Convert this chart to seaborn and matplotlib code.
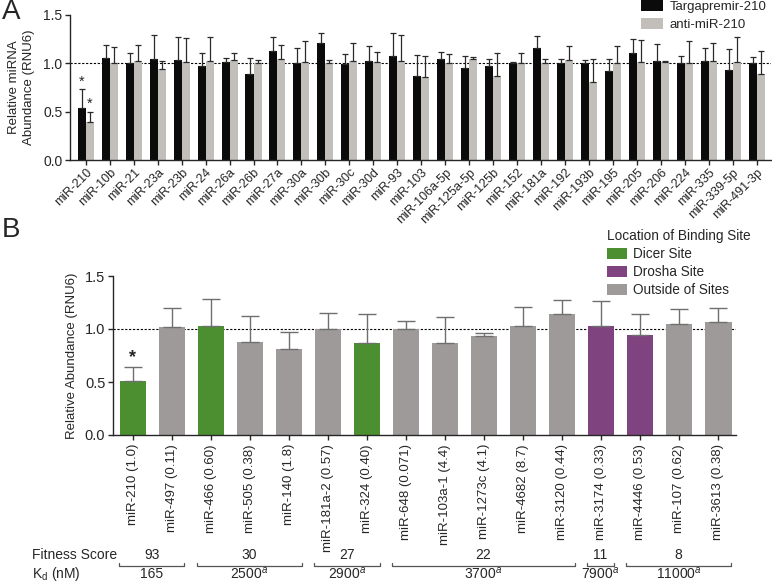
import numpy as np
import pandas as pd
import matplotlib
matplotlib.use("Agg")
import matplotlib.pyplot as plt
import seaborn as sns
from matplotlib.container import BarContainer
from matplotlib.transforms import blended_transform_factory

# ---------------- Panel A data ----------------
a_mirnas = ["miR-210", "miR-10b", "miR-21", "miR-23a", "miR-23b", "miR-24", "miR-26a",
            "miR-26b", "miR-27a", "miR-30a", "miR-30b", "miR-30c", "miR-30d", "miR-93",
            "miR-103", "miR-106a-5p", "miR-125a-5p", "miR-125b", "miR-152", "miR-181a",
            "miR-192", "miR-193b", "miR-195", "miR-205", "miR-206", "miR-224", "miR-335",
            "miR-339-5p", "miR-491-3p"]
a_targa = [0.54, 1.06, 1.00, 1.05, 1.03, 0.97, 1.01, 0.89, 1.13, 1.00, 1.21, 0.99, 1.02, 1.08,
           0.87, 1.04, 0.95, 0.97, 1.00, 1.16, 1.00, 1.00, 0.92, 1.11, 1.02, 1.00, 1.02, 0.93, 1.00]
a_targa_err = [0.19, 0.13, 0.11, 0.24, 0.24, 0.14, 0.05, 0.17, 0.14, 0.16, 0.10, 0.11, 0.16, 0.23,
               0.22, 0.08, 0.13, 0.07, 0.01, 0.12, 0.04, 0.03, 0.12, 0.14, 0.18, 0.08, 0.14, 0.22, 0.07]
a_anti = [0.39, 1.00, 1.02, 0.94, 1.01, 1.02, 1.03, 1.00, 1.04, 1.01, 1.00, 1.02, 1.01, 1.02,
          0.86, 1.00, 1.04, 0.87, 1.00, 1.00, 1.03, 0.81, 1.00, 1.01, 1.01, 1.00, 1.02, 1.01, 0.89]
a_anti_err = [0.11, 0.17, 0.17, 0.08, 0.25, 0.25, 0.08, 0.03, 0.15, 0.22, 0.03, 0.19, 0.11, 0.27,
              0.22, 0.10, 0.03, 0.24, 0.11, 0.05, 0.15, 0.23, 0.18, 0.23, 0.01, 0.23, 0.19, 0.26, 0.24]
a_series = ["Targapremir-210", "anti-miR-210"]
a_signif = ["miR-210"]

# ---------------- Panel B data ----------------
b_labels = ["miR-210 (1.0)", "miR-497 (0.11)", "miR-466 (0.60)", "miR-505 (0.38)",
            "miR-140 (1.8)", "miR-181a-2 (0.57)", "miR-324 (0.40)", "miR-648 (0.071)",
            "miR-103a-1 (4.4)", "miR-1273c (4.1)", "miR-4682 (8.7)", "miR-3120 (0.44)",
            "miR-3174 (0.33)", "miR-4446 (0.53)", "miR-107 (0.62)", "miR-3613 (0.38)"]
b_location = ["Dicer Site", "Outside of Sites", "Dicer Site", "Outside of Sites",
              "Outside of Sites", "Outside of Sites", "Dicer Site", "Outside of Sites",
              "Outside of Sites", "Outside of Sites", "Outside of Sites", "Outside of Sites",
              "Drosha Site", "Drosha Site", "Outside of Sites", "Outside of Sites"]
b_values = [0.505, 1.015, 1.03, 0.88, 0.815, 1.00, 0.865, 1.00, 0.87, 0.93, 1.03, 1.14,
            1.025, 0.94, 1.045, 1.07]
b_err = [0.135, 0.185, 0.25, 0.24, 0.155, 0.15, 0.275, 0.08, 0.24, 0.035, 0.18, 0.13,
         0.235, 0.20, 0.145, 0.13]
b_loc_order = ["Dicer Site", "Drosha Site", "Outside of Sites"]
b_signif = ["miR-210 (1.0)"]

fitness_scores = ["93", "30", "27", "22", "11", "8"]
kd_values = ["165", "2500$^{a}$", "2900$^{a}$", "3700$^{a}$", "7900$^{a}$", "11000$^{a}$"]
group_sizes = [2, 3, 2, 5, 1, 3]

# ---------------- style ----------------
sns.set_style("ticks")
plt.rcParams["font.family"] = ["Liberation Sans", "DejaVu Sans"]
plt.rcParams["mathtext.fontset"] = "custom"
plt.rcParams["mathtext.rm"] = "Liberation Sans"
plt.rcParams["mathtext.it"] = "Liberation Sans:italic"
plt.rcParams["axes.linewidth"] = 1.0
plt.rcParams["xtick.major.width"] = 1.0
plt.rcParams["ytick.major.width"] = 1.0

W, H = 772, 584
fig = plt.figure(figsize=(W / 100, H / 100), dpi=100)

def fx(px):
    return px / W

def fy(py):
    return 1 - py / H

# ---------------- Panel A ----------------
axA = fig.add_axes([fx(70), fy(160), fx(771) - fx(70), fy(15) - fy(160)])
dfA = pd.DataFrame({
    "miRNA": a_mirnas * 2,
    "series": [a_series[0]] * len(a_mirnas) + [a_series[1]] * len(a_mirnas),
    "value": a_targa + a_anti,
})
sns.barplot(data=dfA, x="miRNA", y="value", hue="series", hue_order=a_series,
            palette=["#0b0b0b", "#c2bfba"], width=0.67, saturation=1, linewidth=0,
            errorbar=None, ax=axA, legend=True)
errs_A = [a_targa_err, a_anti_err]
bar_conts_A = [c for c in axA.containers if isinstance(c, BarContainer)]
for ci, cont in enumerate(bar_conts_A):
    for bar in list(cont):
        xc = bar.get_x() + bar.get_width() / 2
        idx = int(round(xc))
        h = bar.get_height()
        e = errs_A[ci][idx]
        axA.errorbar(xc, h, yerr=[[0], [e]], fmt="none", ecolor="#2a2a2a",
                     elinewidth=0.9, capsize=2.2, capthick=0.9, zorder=1)
        if a_mirnas[idx] in a_signif:
            axA.text(xc, h + e + 0.005, "*", ha="center", va="bottom", fontsize=10.5)
axA.axhline(1.0, ls=(0, (2, 1.5)), color="black", lw=0.8, zorder=0)
axA.set_ylim(0, 1.5)
axA.set_xlim(-0.66, 28.6)
axA.set_yticks([0, 0.5, 1.0, 1.5])
axA.set_yticklabels(["0.0", "0.5", "1.0", "1.5"], fontsize=10)
axA.set_xlabel("")
axA.set_ylabel("Relative miRNA\nAbundance (RNU6)", fontsize=9.5, labelpad=6, linespacing=1.3)
axA.tick_params(axis="x", length=3.5, pad=1)
axA.tick_params(axis="y", length=3.5, pad=2)
axA.set_xticks(range(len(a_mirnas)))
axA.set_xticklabels(a_mirnas, rotation=45, ha="right", rotation_mode="anchor", fontsize=9)
sns.despine(ax=axA)
hA, lA = axA.get_legend_handles_labels()
if axA.get_legend() is not None:
    axA.get_legend().remove()
fig.legend(hA, lA, loc="upper left", bbox_to_anchor=(fx(641), fy(0)), frameon=False,
           fontsize=9.5, borderpad=0, borderaxespad=0, handlelength=1.7, handleheight=0.9,
           handletextpad=0.45, labelspacing=0.35)

# ---------------- Panel B ----------------
axB = fig.add_axes([fx(113), fy(435), fx(736) - fx(113), fy(276) - fy(435)])
dfB = pd.DataFrame({"label": b_labels, "location": b_location, "value": b_values})
sns.barplot(data=dfB, x="label", y="value", hue="location", hue_order=b_loc_order,
            palette=["#4b8f31", "#7f4480", "#9f9a9a"], dodge=False, width=0.67,
            saturation=1, linewidth=0, errorbar=None, ax=axB, legend=True)
bar_conts_B = [c for c in axB.containers if isinstance(c, BarContainer)]
for cont in bar_conts_B:
    for bar in list(cont):
        h = bar.get_height()
        if np.isnan(h) or h == 0:
            continue
        xc = bar.get_x() + bar.get_width() / 2
        idx = int(round(xc))
        e = b_err[idx]
        axB.errorbar(xc, h, yerr=[[0], [e]], fmt="none", ecolor="#6f6f6f",
                     elinewidth=1.0, capsize=6.5, capthick=1.0, zorder=1)
        if b_labels[idx] in b_signif:
            axB.text(xc, h + e + 0.01, "*", ha="center", va="bottom", fontsize=13,
                     fontweight="bold")
axB.axhline(1.0, ls=(0, (2, 1.5)), color="black", lw=0.8, zorder=0)
axB.set_ylim(0, 1.5)
axB.set_xlim(-0.51, 15.45)
axB.set_yticks([0, 0.5, 1.0, 1.5])
axB.set_yticklabels(["0.0", "0.5", "1.0", "1.5"], fontsize=10.5)
axB.set_xlabel("")
axB.set_ylabel("Relative Abundance (RNU6)", fontsize=9.5, labelpad=5)
axB.set_xticks(range(len(b_labels)))
axB.set_xticklabels(b_labels, rotation=90, fontsize=9.5)
axB.tick_params(axis="x", length=3.5, pad=3)
axB.tick_params(axis="y", length=3.5, pad=2)
sns.despine(ax=axB)
hB, lB = axB.get_legend_handles_labels()
if axB.get_legend() is not None:
    axB.get_legend().remove()
legB = fig.legend(hB, lB, title="Location of Binding Site", loc="upper left",
                  bbox_to_anchor=(fx(607), fy(229)), frameon=False, fontsize=9.8,
                  title_fontsize=9.8, borderpad=0, borderaxespad=0, handlelength=1.5,
                  handleheight=0.85, handletextpad=0.4, labelspacing=0.3)
legB._legend_box.align = "left"

# ---------------- Fitness score / Kd table ----------------
tr = blended_transform_factory(axB.transData, fig.transFigure)
y_fit = fy(555)
y_kd = fy(574)
fig.text(fx(32), y_fit, "Fitness Score", ha="left", va="center", fontsize=10)
fig.text(fx(32), y_kd, "K$_{\\mathrm{d}}$ (nM)", ha="left", va="center", fontsize=10)
start = 0
y_line = fy(566)
y_tick = fy(562.5)
for score, kd, n in zip(fitness_scores, kd_values, group_sizes):
    end = start + n - 1
    x0, x1 = start - 0.36, end + 0.32
    axB.plot([x0, x0, x1, x1], [y_tick, y_line, y_line, y_tick], transform=tr,
             color="#555555", lw=0.9, clip_on=False)
    xm = (x0 + x1) / 2
    axB.text(xm, y_fit, score, transform=tr, ha="center", va="center", fontsize=10)
    axB.text(xm, y_kd, kd, transform=tr, ha="center", va="center", fontsize=10)
    start = end + 1

# panel letters
fig.text(fx(2), fy(12), "A", fontsize=20, ha="left", va="center")
fig.text(fx(2), fy(230), "B", fontsize=20, ha="left", va="center")

fig.savefig("out.png", dpi=100)
